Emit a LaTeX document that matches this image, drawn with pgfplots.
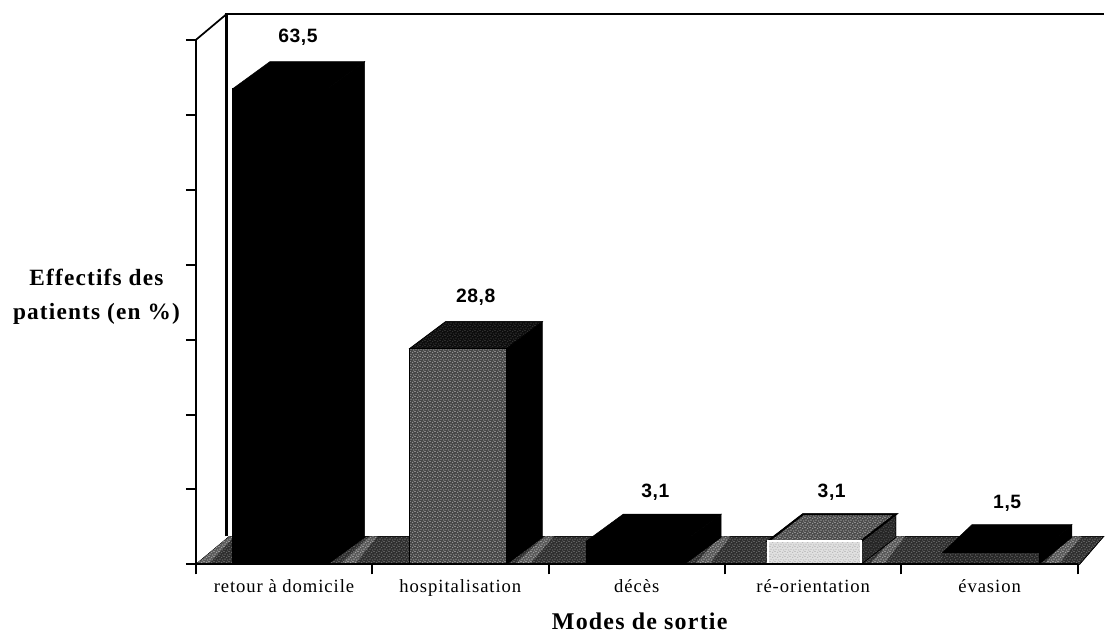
\documentclass[border=0pt]{standalone}
\usepackage{pgfplots}
\pgfplotsset{compat=1.18}
\usepackage{fontspec}
\setmainfont{Liberation Serif}
\newfontfamily\valfont[LetterSpace=3]{Liberation Sans}
\newfontfamily\lsfont[LetterSpace=5]{Liberation Serif}
\usetikzlibrary{patterns}
\pgfdeclarepatternformonly{stip}{\pgfqpoint{0pt}{0pt}}{\pgfqpoint{3.6pt}{3.6pt}}{\pgfqpoint{3.6pt}{3.6pt}}{
  \pgfpathrectangle{\pgfqpoint{0.2pt}{0.3pt}}{\pgfqpoint{0.6pt}{0.6pt}}
  \pgfpathrectangle{\pgfqpoint{2.0pt}{0.9pt}}{\pgfqpoint{0.6pt}{0.6pt}}
  \pgfpathrectangle{\pgfqpoint{1.0pt}{2.0pt}}{\pgfqpoint{0.7pt}{0.7pt}}
  \pgfpathrectangle{\pgfqpoint{2.8pt}{2.7pt}}{\pgfqpoint{0.6pt}{0.6pt}}
  \pgfusepath{fill}}
\tikzset{
  stipfill/.style n args={2}{fill=#1,postaction={pattern=stip,pattern color=#2}},
  vallab/.style={font=\valfont\bfseries\fontsize{14.5pt}{16pt}\selectfont},
}
\begin{document}
\begin{tikzpicture}
\begin{axis}[
  name=main,
  anchor=origin,at={(0,0)},
  scale only axis,width=662.25pt,height=393.75pt,
  xmin=0,xmax=5,ymin=0,ymax=70,clip=false,axis on top,
  axis x line=bottom,axis y line=left,axis line style={-,line width=1.4pt,black},
  tick style={black,line width=1.5pt},
  major tick length=7.5pt,
  tick align=outside,
  xtick={0,1,2,3,4,5},xticklabels={},
  ytick={0,10,20,30,40,50,60,70},yticklabels={},
  extra x ticks={0.5,1.5,2.5,3.5,4.5},
  extra x tick labels={retour à domicile,hospitalisation,décès,ré-orientation,évasion},
  extra x tick style={major tick length=0pt,tick style={draw=none},
    xticklabel style={font=\lsfont\fontsize{14pt}{16pt}\selectfont,anchor=base,yshift=-21pt}},
  xlabel={\textbf{Modes de sortie}},
  xlabel style={font=\lsfont\fontsize{18pt}{20pt}\selectfont,at={(axis cs:2.52,-7.6)},anchor=center},
  ylabel={\textbf{Effectifs des}\\\textbf{patients (en \%)}},
  ylabel style={font=\lsfont\fontsize{17.5pt}{25pt}\selectfont,align=center,rotate=-90,at={(axis cs:-0.56,35.7)},anchor=center},
]
% floor
\addplot[stipfill={black!82}{white!70!black},draw=black] coordinates {(0,0)(5.01,0)(5.147,3.73)(0.19,3.73)} -- cycle;
\addplot[stipfill={black!65}{white},draw=none] coordinates {(0,0)(0.07,0)(0.22,3.73)(0.19,3.73)} -- cycle;
\addplot[stipfill={black!65}{white},draw=none] coordinates {(0.82,0)(0.9,0)(1.03,3.73)(0.985,3.73)} -- cycle;
\addplot[stipfill={black!65}{white},draw=none] coordinates {(1.81,0)(1.89,0)(2.03,3.73)(1.98,3.73)} -- cycle;
\addplot[stipfill={black!65}{white},draw=none] coordinates {(2.83,0)(2.91,0)(3.03,3.73)(2.97,3.73)} -- cycle;
\addplot[stipfill={black!65}{white},draw=none] coordinates {(3.82,0)(3.9,0)(4.02,3.73)(3.96,3.73)} -- cycle;
\addplot[stipfill={black!65}{white},draw=none] coordinates {(4.81,0)(4.89,0)(5.02,3.73)(4.95,3.73)} -- cycle;
% walls
\addplot[black,line width=1.9pt] coordinates {(0.1755,3.73)(0.1755,73.47)(5.147,73.47)};
\addplot[black,line width=1.3pt] coordinates {(0,70)(0.1755,73.47)};
% side faces
\addplot[fill=black,draw=black] coordinates {(0.747,0)(0.747,63.5)(0.957,67.1)(0.957,3.6)} -- cycle;
\addplot[fill=black,draw=black] coordinates {(1.761,0)(1.761,28.8)(1.965,32.4)(1.965,3.6)} -- cycle;
\addplot[fill=black,draw=black] coordinates {(2.769,0)(2.769,3.1)(2.978,6.7)(2.978,3.6)} -- cycle;
\addplot[stipfill={black!85}{white!50!black},draw=black] coordinates {(3.771,0)(3.771,3.1)(3.969,6.7)(3.969,3.6)} -- cycle;
\addplot[fill=black,draw=black] coordinates {(4.779,0)(4.779,1.5)(4.966,5.3)(4.966,3.6)} -- cycle;
% top faces
\addplot[fill=black,draw=black] coordinates {(0.21,63.5)(0.747,63.5)(0.957,67.1)(0.42,67.1)} -- cycle;
\addplot[stipfill={black!95}{white!40!black},draw=black] coordinates {(1.212,28.8)(1.761,28.8)(1.965,32.4)(1.416,32.4)} -- cycle;
\addplot[fill=black,draw=black] coordinates {(2.214,3.1)(2.769,3.1)(2.978,6.7)(2.423,6.7)} -- cycle;
\addplot[stipfill={black!70}{white},draw=black,line width=1.4pt] coordinates {(3.245,3.1)(3.771,3.1)(3.969,6.7)(3.443,6.7)} -- cycle;
\addplot[fill=black,draw=black] coordinates {(4.23,1.5)(4.779,1.5)(4.966,5.3)(4.4,5.3)} -- cycle;
% front faces
\addplot[ybar,bar width=0.537,fill=black,draw=black] coordinates {(0.478,63.5)};
\addplot[ybar,bar width=0.549,stipfill={black!72}{white},draw=black,line width=1pt] coordinates {(1.487,28.8)};
\addplot[ybar,bar width=0.555,fill=black,draw=black] coordinates {(2.492,3.1)};
\addplot[ybar,bar width=0.526,stipfill={black!12}{black!45},draw=white,line width=1.2pt] coordinates {(3.508,3.1)};
\addplot[ybar,bar width=0.549,stipfill={black!85}{white!60!black},draw=none] coordinates {(4.505,1.5)};
% value labels
\node[vallab] at (axis cs:0.579,70.4) {63,5};
\node[vallab] at (axis cs:1.587,35.6) {28,8};
\node[vallab] at (axis cs:2.605,9.6) {3,1};
\node[vallab] at (axis cs:3.605,9.6) {3,1};
\node[vallab] at (axis cs:4.60,8.1) {1,5};
\end{axis}
\useasboundingbox (-147pt,-51pt) rectangle (681.75pt,423.75pt);
\end{tikzpicture}
\end{document}
